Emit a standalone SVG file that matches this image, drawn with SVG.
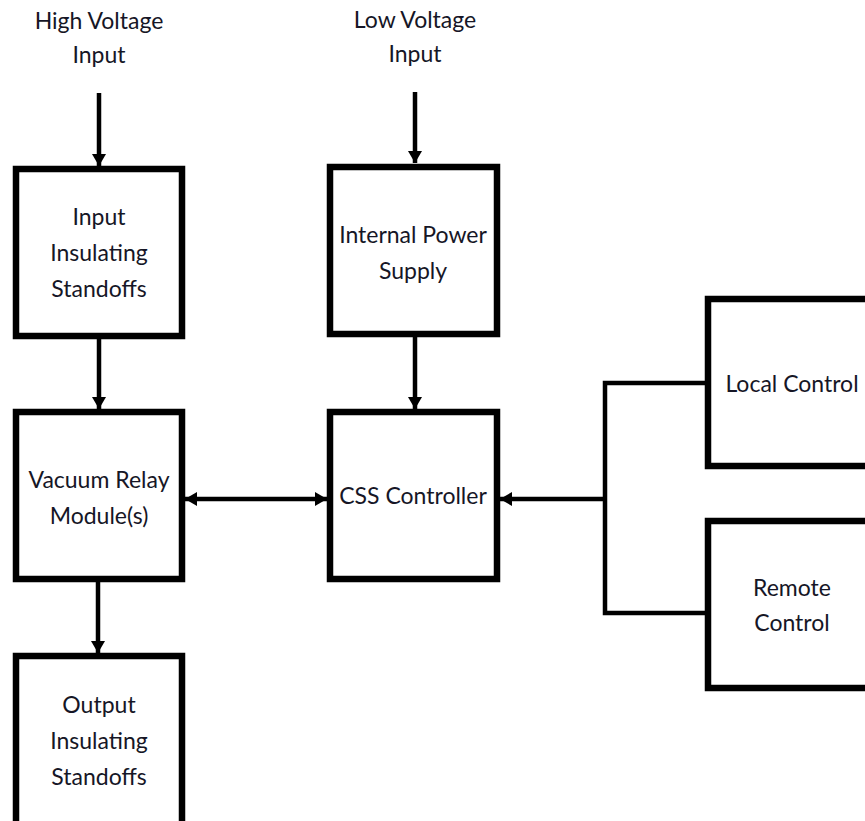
<svg xmlns="http://www.w3.org/2000/svg" width="865" height="821" viewBox="0 0 865 821">
<style>
.box{fill:#fff;stroke:#000;stroke-width:6.5}
.con{fill:none;stroke:#000;stroke-width:4.5}
text{font-family:Lato,"Liberation Sans",sans-serif;font-size:23px;fill:#161626;text-anchor:middle}
</style>
<defs>
<marker id="ah" markerUnits="userSpaceOnUse" viewBox="0 0 12 14" refX="12" refY="7" markerWidth="12" markerHeight="14" orient="auto-start-reverse">
<path d="M0,0 L12,7 L0,14 z" fill="#000"/>
</marker>
</defs>
<rect width="865" height="821" fill="#fff"/>
<g id="labels">
<text x="99" y="29">High Voltage</text>
<text x="99" y="63">Input</text>
<text x="415" y="28">Low Voltage</text>
<text x="415" y="62">Input</text>
</g>
<g id="connectors">
<line class="con" x1="99" y1="93" x2="99" y2="166" marker-end="url(#ah)"/>
<line class="con" x1="415" y1="92" x2="415" y2="163" marker-end="url(#ah)"/>
<line class="con" x1="99" y1="339" x2="99" y2="409" marker-end="url(#ah)"/>
<line class="con" x1="415" y1="337" x2="415" y2="409" marker-end="url(#ah)"/>
<line class="con" x1="98" y1="582" x2="98" y2="653" marker-end="url(#ah)"/>
<line class="con" x1="185" y1="499" x2="327" y2="499" marker-start="url(#ah)" marker-end="url(#ah)"/>
<polyline class="con" points="708,383 605,383 605,613 708,613"/>
<line class="con" x1="605" y1="499" x2="500" y2="499" marker-end="url(#ah)"/>
</g>
<g id="input-standoffs">
<rect class="box" x="16" y="169" width="166" height="167"/>
<text x="99" y="225">Input</text>
<text x="99" y="261">Insulating</text>
<text x="99" y="297">Standoffs</text>
</g>
<g id="power-supply">
<rect class="box" x="330" y="167" width="167" height="167"/>
<text x="413" y="243">Internal Power</text>
<text x="413" y="279">Supply</text>
</g>
<g id="vacuum-relay">
<rect class="box" x="16" y="412" width="166" height="167"/>
<text x="99" y="488">Vacuum Relay</text>
<text x="99" y="524">Module(s)</text>
</g>
<g id="css-controller">
<rect class="box" x="330" y="412" width="167" height="167"/>
<text x="413" y="504">CSS Controller</text>
</g>
<g id="output-standoffs">
<rect class="box" x="16" y="656" width="166" height="180"/>
<text x="99" y="713">Output</text>
<text x="99" y="749">Insulating</text>
<text x="99" y="785">Standoffs</text>
</g>
<g id="local-control">
<rect class="box" x="708" y="299" width="180" height="167"/>
<text x="792" y="392">Local Control</text>
</g>
<g id="remote-control">
<rect class="box" x="708" y="521" width="180" height="167"/>
<text x="792" y="596">Remote</text>
<text x="792" y="631">Control</text>
</g>
</svg>
